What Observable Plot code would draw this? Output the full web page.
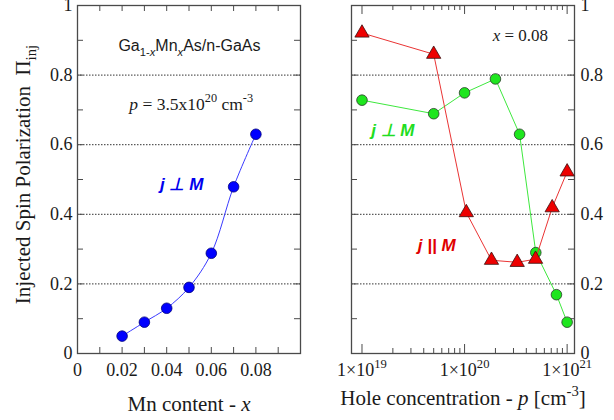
<!DOCTYPE html>
<html><head><meta charset="utf-8">
<script src="https://cdn.jsdelivr.net/npm/d3@7"></script>
<script src="https://cdn.jsdelivr.net/npm/@observablehq/plot@0.6"></script>
<style>
html,body{margin:0;padding:0;background:#fff;}
#wrap{position:relative;width:614px;height:420px;overflow:hidden;background:#fff;}
#left{position:absolute;left:0;top:0;}
#right{position:absolute;left:310px;top:0;}
</style></head>
<body><div id="wrap"><div id="left"></div><div id="right"></div></div>
<script>
// ---- Left panel: Mn content x, p = 3.5x10^20 cm^-3, j ⊥ M
const mnContent = [0.02, 0.03, 0.04, 0.05, 0.06, 0.07, 0.08];
const piPerpMn  = [0.05, 0.09, 0.13, 0.19, 0.288, 0.479, 0.63];
// ---- Right panel: hole concentration p, x = 0.08
const holeGreen = [1e19, 5e19, 1e20, 2e20, 3.44e20, 4.95e20, 7.87e20, 1e21];
const piPerpP   = [0.728, 0.689, 0.749, 0.789, 0.63, 0.29, 0.169, 0.09];
const holeRed   = [1e19, 5e19, 1.04e20, 1.83e20, 3.26e20, 4.92e20, 7.15e20, 1e21];
const piParP    = [0.921, 0.86, 0.405, 0.268, 0.262, 0.271, 0.419, 0.522];
// ---- ticks
const yMajor = [0, 0.2, 0.4, 0.6, 0.8, 1];
const yAllTicks = [0.1, 0.2, 0.3, 0.4, 0.5, 0.6, 0.7, 0.8, 0.9];
const yGrid = [0.2, 0.4, 0.6, 0.8];
const xMnLabels = [0, 0.02, 0.04, 0.06, 0.08];
const xMnTickMarks = [0.01, 0.02, 0.03, 0.04, 0.05, 0.06, 0.07, 0.08, 0.09];
const pDecades = [1e19, 1e20, 1e21];
const pMinor = [2e19, 3e19, 4e19, 5e19, 6e19, 7e19, 8e19, 9e19,
                2e20, 3e20, 4e20, 5e20, 6e20, 7e20, 8e20, 9e20];

const leftRows  = mnContent.map((x, i) => ({x, y: piPerpMn[i]}));
const greenRows = holeGreen.map((x, i) => ({x, y: piPerpP[i]}));
const redRows   = holeRed.map((x, i) => ({x, y: piParP[i]}));

const H = 420, mT = 5, mB = 67, plotH = H - mT - mB;
const SERIF = "'Liberation Serif','Times New Roman',serif";
const SANS = "'Liberation Sans',Arial,sans-serif";
const INK = "#1a1a1a", FRAME = "#4a4a4a";
const baseStyle = {fontFamily: SERIF, fontSize: "18px", color: INK, background: "#fff", overflow: "visible"};

function yTickFmt(d) { return d === 0 ? "0" : d === 1 ? "1" : d.toFixed(1); }

// ---------- left ----------
const LW = 310, LmL = 77, LmR = 10, LplotW = LW - LmL - LmR;
const left = Plot.plot({
  width: LW, height: H, marginLeft: LmL, marginRight: LmR, marginTop: mT, marginBottom: mB,
  style: baseStyle,
  x: {domain: [0, 0.1]},
  y: {domain: [0, 1]},
  marks: [
    Plot.ruleY(yGrid, {y: d => d, stroke: "#333", strokeWidth: 1, strokeDasharray: "1.5,1.5"}),
    Plot.tickX(xMnTickMarks, {x: d => d, insetTop: plotH - 6, stroke: FRAME, strokeWidth: 1}),
    Plot.tickX(xMnTickMarks, {x: d => d, insetBottom: plotH - 6, stroke: FRAME, strokeWidth: 1}),
    Plot.tickY(yAllTicks, {y: d => d, insetRight: LplotW - 6, stroke: FRAME, strokeWidth: 1}),
    Plot.tickY(yAllTicks, {y: d => d, insetLeft: LplotW - 6, stroke: FRAME, strokeWidth: 1}),
    Plot.frame({stroke: FRAME, strokeWidth: 1.3}),
    Plot.axisX({ticks: xMnLabels, tickSize: 0, tickPadding: 10, label: null, fontFamily: SERIF, fontSize: 18,
                tickFormat: d => d === 0 ? "0" : d.toFixed(2), fill: INK}),
    Plot.axisY({ticks: yMajor, tickSize: 0, tickPadding: 5, label: null, fontFamily: SERIF, fontSize: 18,
                tickFormat: yTickFmt, fill: INK}),
    Plot.line(leftRows, {x: "x", y: "y", stroke: "#3a3aff", strokeWidth: 1, curve: "catmull-rom"}),
    Plot.dot(leftRows, {x: "x", y: "y", r: 5.3, fill: "#0000ff", stroke: "#00007a", strokeWidth: 0.8}),
    Plot.text(["Ga_{1-}_{*x*}Mn_{*x*}As/n-GaAs"], {x: 0.0502, y: 0.883, text: d => d,
      fontFamily: SANS, fontSize: 16, fill: INK}),
    Plot.text(["*p* = 3.5x10^{20} cm^{-3}"], {x: 0.051, y: 0.717, text: d => d,
      fontFamily: SERIF, fontSize: 17.5, fill: INK}),
    Plot.text(["j ⊥ M"], {x: 0.0467, y: 0.485, text: d => d,
      fontFamily: SANS, fontSize: 17, fontWeight: "bold", fontStyle: "italic", fill: "#0000ee"}),
    Plot.text(["Mn content - *x*"], {frameAnchor: "bottom", text: d => d, dy: 51,
      lineAnchor: "middle", fontFamily: SERIF, fontSize: 21, fill: INK}),
    Plot.text(["Injected Spin Polarization  Π_{inj}"], {frameAnchor: "left", text: d => d,
      rotate: -90, dx: -54, dy: -5, textAnchor: "middle", lineAnchor: "middle",
      fontFamily: SERIF, fontSize: 21, fill: INK})
  ]
});

// ---------- right ----------
const RW = 304, RmL = 41, RmR = 40, RplotW = RW - RmL - RmR;
const right = Plot.plot({
  width: RW, height: H, marginLeft: RmL, marginRight: RmR, marginTop: mT, marginBottom: mB,
  style: baseStyle,
  x: {type: "log", domain: [7.9e18, 1.18e21]},
  y: {domain: [0, 1]},
  marks: [
    Plot.ruleY(yGrid, {y: d => d, stroke: "#333", strokeWidth: 1, strokeDasharray: "1.5,1.5"}),
    Plot.tickX(pDecades, {x: d => d, insetTop: plotH - 9, stroke: FRAME, strokeWidth: 1}),
    Plot.tickX(pDecades, {x: d => d, insetBottom: plotH - 9, stroke: FRAME, strokeWidth: 1}),
    Plot.tickX(pMinor, {x: d => d, insetTop: plotH - 5, stroke: FRAME, strokeWidth: 1}),
    Plot.tickX(pMinor, {x: d => d, insetBottom: plotH - 5, stroke: FRAME, strokeWidth: 1}),
    Plot.tickY(yAllTicks, {y: d => d, insetRight: RplotW - 6, stroke: FRAME, strokeWidth: 1}),
    Plot.tickY(yAllTicks, {y: d => d, insetLeft: RplotW - 6, stroke: FRAME, strokeWidth: 1}),
    Plot.frame({stroke: FRAME, strokeWidth: 1.3}),
    Plot.axisX({ticks: pDecades, tickSize: 0, tickPadding: 10, label: null, fill: INK,
                fontFamily: SERIF, fontSize: 18,
                tickFormat: d => `1×10^{${Math.round(Math.log10(d))}}`}),
    Plot.axisY({anchor: "right", ticks: yMajor, tickSize: 0, tickPadding: 6, label: null,
                fontFamily: SERIF, fontSize: 18, tickFormat: yTickFmt, fill: INK}),
    Plot.line(greenRows, {x: "x", y: "y", stroke: "#3ee83e", strokeWidth: 1}),
    Plot.dot(greenRows, {x: "x", y: "y", r: 5.3, fill: "#1ee61e", stroke: "#2a3a2a", strokeWidth: 0.8}),
    Plot.line(redRows, {x: "x", y: "y", stroke: "#ea3434", strokeWidth: 1}),
    Plot.dot(redRows, {x: "x", y: "y", r: 5.3, symbol: "triangle", fill: "#ee0000", stroke: "#3a1010", strokeWidth: 0.8}),
    Plot.text(["*x* = 0.08"], {x: 3.5e20, y: 0.914, text: d => d, fontFamily: SERIF, fontSize: 17, fill: INK}),
    Plot.text(["j ⊥ M"], {x: 2e19, y: 0.640, text: d => d,
      fontFamily: SANS, fontSize: 17, fontWeight: "bold", fontStyle: "italic", fill: "#22dd22"}),
    Plot.text(["j || M"], {x: 5.35e19, y: 0.311, text: d => d,
      fontFamily: SANS, fontSize: 17, fontWeight: "bold", fontStyle: "italic", fill: "#e00000"}),
    Plot.text(["Hole concentration - *p* [cm^{-3}]"], {frameAnchor: "bottom", text: d => d, dy: 45,
      lineAnchor: "middle", fontFamily: SERIF, fontSize: 21, fill: INK})
  ]
});

document.getElementById("left").appendChild(left);
document.getElementById("right").appendChild(right);

// ---- rich text: ^{sup}, _{sub}, *italic*
function richText(svg) {
  const NS = "http://www.w3.org/2000/svg";
  d3.select(svg).selectAll("text").each(function() {
    const el = this;
    const s = el.textContent;
    if (!/[\^_]\{|\*/.test(s)) return;
    const fs = parseFloat(getComputedStyle(el).fontSize) || 18;
    while (el.firstChild) el.removeChild(el.firstChild);
    const parts = s.split(/(\^\{[^}]*\}|_\{[^}]*\}|\*[^*]*\*)/g).filter(p => p !== "");
    let shift = 0;
    for (const p of parts) {
      const t = document.createElementNS(NS, "tspan");
      let txt = p, target = 0, small = false, italic = false;
      if (p.startsWith("^{")) { txt = p.slice(2, -1); target = -0.45 * fs; small = true; }
      else if (p.startsWith("_{")) { txt = p.slice(2, -1); target = 0.28 * fs; small = true; }
      if (txt.length > 1 && txt.startsWith("*") && txt.endsWith("*")) { txt = txt.slice(1, -1); italic = true; }
      const dy = target - shift;
      if (dy) t.setAttribute("dy", dy.toFixed(2));
      shift = target;
      if (small) t.setAttribute("font-size", (0.7 * fs).toFixed(2));
      if (italic) t.setAttribute("font-style", "italic");
      t.textContent = txt;
      el.appendChild(t);
    }
  });
}
richText(left);
richText(right);
</script>
</body></html>
